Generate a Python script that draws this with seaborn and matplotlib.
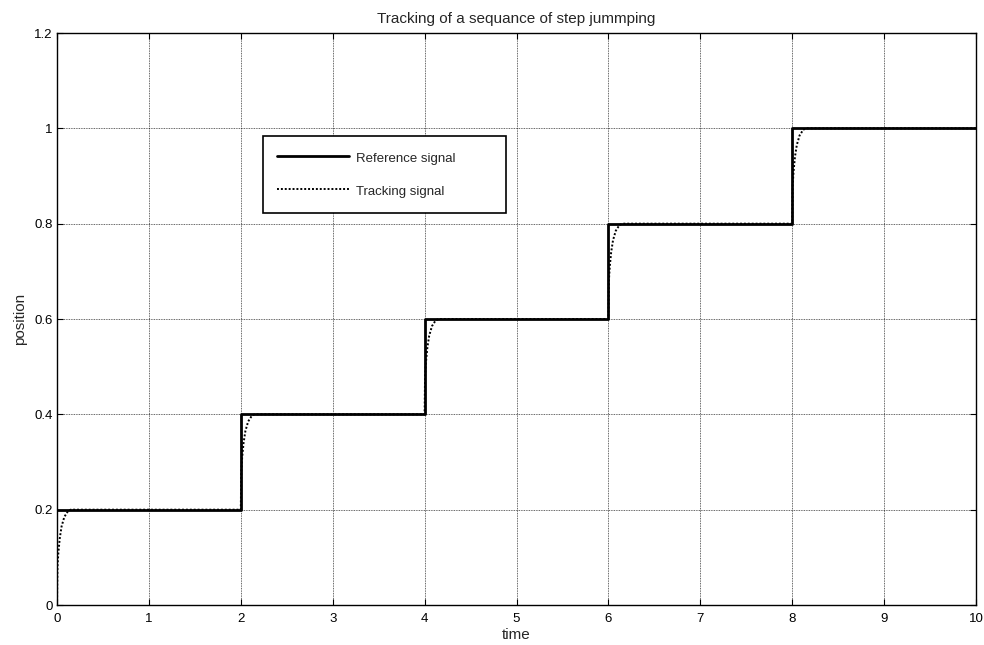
import matplotlib
matplotlib.use("Agg")
import matplotlib.pyplot as plt
import seaborn as sns
import pandas as pd
from matplotlib.ticker import FormatStrFormatter

# Reference step signal
ref_t = [0, 2, 4, 6, 8, 10]
ref_y = [0.2, 0.4, 0.6, 0.8, 1.0, 1.0]

# Tracking signal
track_t = [0, 0.005, 0.015, 0.03, 0.05, 0.08, 0.12, 0.15,
           2.0, 2.005, 2.015, 2.03, 2.05, 2.08, 2.12, 2.15,
           4.0, 4.005, 4.015, 4.03, 4.05, 4.08, 4.12, 4.15,
           6.0, 6.005, 6.015, 6.03, 6.05, 6.08, 6.12, 6.15,
           8.0, 8.005, 8.015, 8.03, 8.05, 8.08, 8.12, 8.15, 10.0]
track_y = [0.0, 0.08, 0.11, 0.14, 0.165, 0.185, 0.197, 0.2,
           0.2, 0.28, 0.31, 0.34, 0.365, 0.385, 0.397, 0.4,
           0.4, 0.48, 0.51, 0.54, 0.565, 0.585, 0.597, 0.6,
           0.6, 0.68, 0.71, 0.74, 0.765, 0.785, 0.797, 0.8,
           0.8, 0.88, 0.91, 0.94, 0.965, 0.985, 0.997, 1.0, 1.0]

x_ticks = [0, 1, 2, 3, 4, 5, 6, 7, 8, 9, 10]
y_ticks = [0, 0.2, 0.4, 0.6, 0.8, 1.0, 1.2]

sns.set_style("white")
plt.rcParams['font.family'] = ['Liberation Sans', 'DejaVu Sans']

fig = plt.figure(figsize=(9.84, 6.45), dpi=100)
ax = fig.add_axes([57/984, 1-605/645, (976-57)/984, (605-33)/645])

ref_df = pd.DataFrame({"t": ref_t, "y": ref_y})
trk_df = pd.DataFrame({"t": track_t, "y": track_y})

sns.lineplot(data=trk_df, x="t", y="y", ax=ax, color="black", linewidth=1.4,
             linestyle=(0, (1, 1)), sort=False, estimator=None,
             label="Tracking signal", zorder=3)
sns.lineplot(data=ref_df, x="t", y="y", ax=ax, color="black", linewidth=2.0,
             drawstyle="steps-post", sort=False, estimator=None,
             label="Reference signal", zorder=2)

ax.set_xlim(0, 10)
ax.set_ylim(0, 1.2)
ax.set_xticks(x_ticks)
ax.set_yticks(y_ticks)
ax.yaxis.set_major_formatter(FormatStrFormatter('%g'))
ax.grid(True, color="black", linestyle=(0, (1, 1)), linewidth=0.6, alpha=0.8)
ax.tick_params(direction="in", length=4, width=0.8, labelsize=9.5, colors="black",
               top=True, right=True, bottom=True, left=True)
ax.tick_params(axis="x", pad=6)
ax.tick_params(axis="y", pad=3)
for s in ax.spines.values():
    s.set_color("black")
    s.set_linewidth(1.0)

ax.set_title("Tracking of a sequance of step jummping", fontsize=11, pad=7)
ax.set_xlabel("time", fontsize=11, labelpad=2)
ax.set_ylabel("position", fontsize=11, labelpad=5)

handles, labels = ax.get_legend_handles_labels()
order = [labels.index("Reference signal"), labels.index("Tracking signal")]
leg = ax.legend([handles[i] for i in order], [labels[i] for i in order],
                loc="upper left", bbox_to_anchor=(0.224, 0.820, 0.2646, 0.0),
                mode="expand", fontsize=9.5, frameon=True, fancybox=False,
                edgecolor="black", framealpha=1, handlelength=5.4,
                handleheight=1.4, handletextpad=0.55, borderaxespad=0,
                borderpad=1.1, labelspacing=1.3)
leg.get_frame().set_linewidth(1.2)

fig.savefig("out.png", dpi=100)
